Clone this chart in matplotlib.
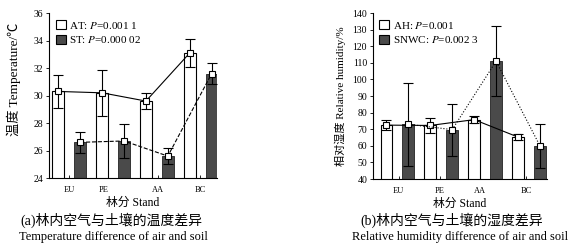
import numpy as np
import matplotlib
matplotlib.use("Agg")
from matplotlib import pyplot as plt

plt.rcParams['font.family'] = ['Liberation Serif', 'Noto Sans CJK SC']
plt.rcParams['mathtext.fontset'] = 'stix'

# ----- data -----
stands = ['EU', 'PE', 'AA', 'BC']

at_mean = [30.3, 30.2, 29.6, 33.1]
at_err = [1.2, 1.65, 0.6, 1.0]
st_mean = [26.6, 26.7, 25.6, 31.6]
st_err = [0.75, 1.25, 0.6, 0.75]

ah_mean = [72.5, 72.3, 75.8, 65.3]
ah_err = [3.2, 4.7, 2.2, 1.7]
snwc_mean = [73.0, 69.8, 111.0, 60.0]
snwc_err = [25.0, 15.7, 21.0, 13.3]

DPI = 100
fig = plt.figure(figsize=(577 / DPI, 246 / DPI), dpi=DPI)

x = np.arange(len(stands))
off = 0.25
w = 0.265
dark = '#4a4a4a'


def panel(ax, m1, e1, m2, e2, ls2, lab1, lab2, ylim, yticks, xlim, xt):
    ax.bar(x - off, m1, w, color='white', edgecolor='black', lw=0.8, zorder=2)
    ax.bar(x + off, m2, w, color=dark, edgecolor='#222222', lw=0.6, zorder=2)
    ax.errorbar(x - off, m1, yerr=e1, fmt='none', ecolor='black', elinewidth=0.8, capsize=3.5, capthick=0.8, zorder=3)
    ax.errorbar(x + off, m2, yerr=e2, fmt='none', ecolor='black', elinewidth=0.8, capsize=3.5, capthick=0.8, zorder=3)
    ax.plot(x - off, m1, '-', color='black', lw=0.8, marker='s', ms=4, mfc='white', mec='black', mew=0.8, zorder=4)
    ax.plot(x + off, m2, ls2, color='black', lw=0.8, marker='s', ms=4, mfc='white', mec='black', mew=0.8, zorder=4)
    ax.set_ylim(ylim)
    ax.set_yticks(yticks)
    ax.set_xlim(xlim)
    ax.set_xticks(xt)
    ax.set_xticklabels(stands, fontsize=6)
    ax.tick_params(axis='x', direction='in', length=2, width=0.6, pad=6)
    ax.tick_params(axis='y', direction='out', length=2, width=0.6, labelsize=7, pad=2)
    for s in ['top', 'right']:
        ax.spines[s].set_visible(False)
    for s in ['left', 'bottom']:
        ax.spines[s].set_linewidth(0.8)
    ax.set_xlabel('林分 Stand', fontsize=8.5, labelpad=2)
    h1 = plt.Rectangle((0, 0), 1, 1, fc='white', ec='black', lw=0.8)
    h2 = plt.Rectangle((0, 0), 1, 1, fc=dark, ec='black', lw=0.8)
    ax.legend([h1, h2], [lab1, lab2], loc='upper left', frameon=False, fontsize=8,
              handlelength=0.9, handleheight=0.9, handletextpad=0.3, labelspacing=0.3,
              borderaxespad=0.2, bbox_to_anchor=(0.0, 1.0))


ax1 = fig.add_axes([0.085, 0.276, 0.291, 0.671])
panel(ax1, at_mean, at_err, st_mean, st_err, '--', r'AT: $P$=0.001 1', r'ST: $P$=0.000 02',
      (24, 36), [24, 26, 28, 30, 32, 34, 36], (-0.46, 3.37), [0, 0.78, 2.02, 2.98])
ax1.set_ylabel('温度 Temperature/℃', fontsize=9.5)
ax1.yaxis.set_label_coords(-0.165, 0.6)

ax2 = fig.add_axes([0.646, 0.272, 0.302, 0.675])
panel(ax2, ah_mean, ah_err, snwc_mean, snwc_err, ':', r'AH: $P$=0.001', r'SNWC: $P$=0.002 3',
      (40, 140), list(range(40, 141, 10)), (-0.56, 3.41), [0.03, 0.97, 1.88, 2.93])
ax2.set_ylabel('相对湿度 Relative humidity/%', fontsize=8)
ax2.yaxis.set_label_coords(-0.155, 0.5)

fig.text(0.193, 0.105, '(a)林内空气与土壤的温度差异', ha='center', va='center', fontsize=10)
fig.text(0.196, 0.035, 'Temperature difference of air and soil', ha='center', va='center', fontsize=9)
fig.text(0.782, 0.105, '(b)林内空气与土壤的湿度差异', ha='center', va='center', fontsize=10)
fig.text(0.797, 0.035, 'Relative humidity difference of air and soil', ha='center', va='center', fontsize=9)

plt.savefig('out.png', dpi=DPI)
